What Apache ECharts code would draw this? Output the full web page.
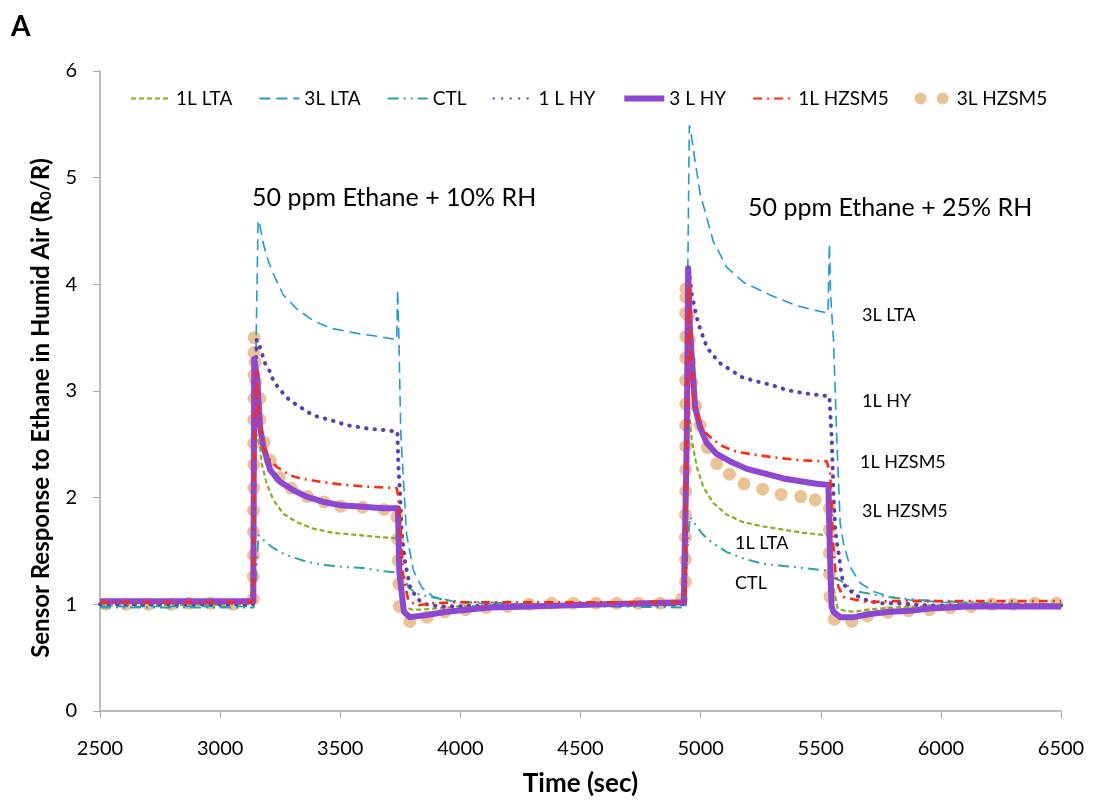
<!DOCTYPE html>
<html>
<head>
<meta charset="utf-8">
<script src="https://cdn.jsdelivr.net/npm/echarts@6/dist/echarts.min.js"></script>
<style>
  html, body { margin: 0; padding: 0; background: #fff; }
  #chart { width: 1093px; height: 800px; }
</style>
</head>
<body>
<div id="chart"></div>
<script>
// [time (sec), R0/R]
var lta1 = [[2500,0.99],[3130,1.0],[3140,1.8],[3150,2.6],[3166,2.48],[3173,2.32],[3194,2.13],[3221,1.98],[3263,1.85],[3319,1.77],[3388,1.71],[3471,1.67],[3569,1.65],[3666,1.63],[3740,1.62],[3752,1.2],[3770,0.97],[3800,0.95],[3832,0.95],[3887,0.96],[3985,0.98],[4200,0.99],[4930,1.0],[4940,2.0],[4950,2.9],[4955,2.73],[4963,2.54],[4984,2.29],[5011,2.10],[5053,1.95],[5109,1.84],[5178,1.77],[5261,1.73],[5344,1.70],[5428,1.67],[5518,1.65],[5536,1.64],[5550,1.2],[5570,0.96],[5600,0.94],[5636,0.93],[5691,0.95],[5800,0.97],[6000,0.99],[6500,1.0]];

var lta3 = [[2500,0.98],[3140,0.98],[3150,3.5],[3158,4.60],[3163,4.58],[3180,4.38],[3200,4.22],[3221,4.10],[3263,3.90],[3319,3.77],[3387,3.66],[3457,3.59],[3569,3.54],[3666,3.51],[3735,3.48],[3739,3.95],[3744,3.50],[3752,2.60],[3776,1.66],[3804,1.32],[3839,1.16],[3887,1.07],[3985,1.02],[4082,1.01],[4500,0.99],[4940,0.99],[4946,4.0],[4953,5.49],[4958,5.45],[4970,5.26],[4998,4.85],[5053,4.40],[5109,4.16],[5178,4.02],[5289,3.90],[5400,3.80],[5470,3.76],[5530,3.73],[5536,4.38],[5541,3.9],[5553,3.48],[5567,2.54],[5581,1.76],[5594,1.58],[5622,1.35],[5664,1.20],[5719,1.12],[5789,1.07],[5872,1.04],[6011,1.02],[6200,1.0],[6500,0.99]];

var ctl = [[2500,0.97],[3140,0.97],[3150,1.3],[3160,1.65],[3166,1.63],[3214,1.54],[3249,1.49],[3291,1.45],[3360,1.40],[3430,1.37],[3513,1.35],[3596,1.34],[3679,1.31],[3735,1.30],[3762,1.29],[3783,1.16],[3818,1.10],[3874,1.07],[3943,1.04],[4026,1.02],[4109,1.02],[4300,1.0],[4600,0.98],[4935,0.97],[4945,1.5],[4955,1.82],[4984,1.73],[5011,1.65],[5053,1.57],[5109,1.49],[5178,1.43],[5261,1.38],[5344,1.36],[5428,1.34],[5511,1.32],[5535,1.32],[5551,1.25],[5594,1.21],[5636,1.13],[5677,1.11],[5747,1.08],[5816,1.06],[5914,1.04],[6011,1.03],[6200,1.01],[6500,1.0]];

var hy1 = [[2500,1.0],[3135,1.0],[3145,3.0],[3152,3.48],[3166,3.41],[3187,3.26],[3208,3.18],[3221,3.10],[3249,3.01],[3291,2.91],[3333,2.85],[3388,2.77],[3457,2.73],[3527,2.68],[3610,2.65],[3694,2.63],[3738,2.62],[3742,2.29],[3749,2.04],[3756,1.66],[3770,1.40],[3779,1.29],[3793,1.14],[3832,1.03],[3860,1.0],[3915,0.98],[4200,0.99],[4935,1.0],[4945,3.5],[4955,4.07],[4963,3.91],[4977,3.76],[4991,3.63],[5005,3.54],[5026,3.41],[5046,3.35],[5081,3.26],[5123,3.20],[5171,3.13],[5234,3.09],[5289,3.06],[5358,3.01],[5428,2.98],[5497,2.96],[5536,2.95],[5546,2.54],[5553,2.04],[5560,1.70],[5569,1.55],[5577,1.45],[5583,1.33],[5594,1.19],[5622,1.13],[5650,1.08],[5698,1.03],[5754,1.01],[5816,1.01],[5941,0.99],[6500,0.99]];

var hy3 = [[2500,1.03],[3138,1.03],[3142,3.3],[3155,3.1],[3166,2.66],[3180,2.48],[3208,2.26],[3249,2.15],[3305,2.07],[3360,2.01],[3430,1.96],[3499,1.93],[3596,1.915],[3679,1.90],[3740,1.90],[3746,1.3],[3765,0.93],[3790,0.88],[3860,0.90],[3943,0.93],[4026,0.95],[4124,0.97],[4290,0.98],[4600,1.0],[4930,1.02],[4942,2.5],[4948,4.15],[4955,3.6],[4977,2.85],[4998,2.66],[5026,2.51],[5067,2.41],[5123,2.34],[5192,2.27],[5261,2.23],[5344,2.18],[5428,2.15],[5483,2.13],[5532,2.12],[5538,1.5],[5545,0.98],[5553,0.93],[5581,0.88],[5636,0.88],[5706,0.91],[5789,0.93],[5872,0.94],[5955,0.96],[6038,0.97],[6108,0.98],[6500,0.98]];

var hzsm1 = [[2500,1.02],[3135,1.02],[3142,2.0],[3150,3.2],[3160,2.8],[3180,2.48],[3208,2.35],[3235,2.29],[3291,2.21],[3333,2.18],[3416,2.15],[3513,2.12],[3637,2.10],[3735,2.09],[3742,2.01],[3756,1.54],[3760,1.29],[3783,1.04],[3818,0.99],[3887,1.01],[3985,1.02],[4500,1.02],[4935,1.02],[4942,2.5],[4950,4.0],[4960,3.3],[4970,2.91],[4984,2.79],[5011,2.63],[5053,2.54],[5094,2.48],[5150,2.43],[5234,2.40],[5331,2.37],[5428,2.35],[5525,2.34],[5539,2.23],[5546,1.91],[5550,1.60],[5556,1.48],[5560,1.32],[5574,1.16],[5594,1.07],[5650,1.04],[5691,1.02],[5789,1.03],[6000,1.03],[6500,1.03]];

var hzsm3 = [[2524,1.0],[2608,1.0],[2701,1.0],[2796,1.0],[2869,1.01],[2960,1.01],[3055,1.0],[3138,1.05],
  [3138,1.26],[3139,1.46],[3139,1.68],[3139,1.88],[3140,2.09],[3140,2.31],[3140,2.51],[3140,2.73],[3141,2.93],[3141,3.15],[3141,3.36],[3142,3.50],
  [3146,3.27],[3148,3.09],[3165,2.93],[3166,2.73],[3183,2.52],[3208,2.35],[3246,2.19],[3295,2.09],[3364,2.01],[3433,1.96],[3502,1.92],[3593,1.91],[3682,1.89],
  [3736,1.82],[3739,1.61],[3741,1.41],[3744,1.19],[3746,0.98],
  [3790,0.84],[3862,0.88],[3936,0.93],[4022,0.95],[4107,0.97],[4197,0.98],[4286,1.0],[4380,1.01],[4470,1.01],[4565,1.01],[4651,1.01],[4741,1.01],[4831,1.01],[4921,1.05],
  [4937,1.21],[4937,1.42],[4937,1.63],[4937,1.84],[4938,2.06],[4938,2.26],[4938,2.48],[4938,2.68],[4938,2.88],[4938,3.10],[4938,3.31],[4938,3.51],[4938,3.73],[4939,3.88],[4939,3.96],
  [4950,3.70],[4953,3.48],[4955,3.28],[4963,3.08],[4980,2.86],[4998,2.68],[5028,2.47],[5067,2.32],[5120,2.22],[5181,2.13],[5258,2.08],[5335,2.03],[5417,2.01],[5477,1.98],
  [5536,1.90],[5536,1.70],[5536,1.48],[5537,1.28],[5538,1.07],
  [5556,0.86],[5629,0.84],[5694,0.89],[5779,0.925],[5865,0.94],[5952,0.95],[6039,0.97],[6126,0.98],[6213,1.0],[6302,1.0],[6391,1.01],[6481,1.01]];

var seriesNames = ['1L LTA', '3L LTA', 'CTL', '1 L HY', '3 L HY', '1L HZSM5', '3L HZSM5'];
var xTicks = { min: 2500, max: 6500, step: 500 };
var yTicks = { min: 0, max: 6, step: 1 };

var font = 'Lato, "Open Sans", sans-serif';

var chart = echarts.init(document.getElementById('chart'));

function lineSeries(name, data, color, width, dash, extra) {
  var s = {
    name: name,
    type: 'line',
    data: data,
    symbol: 'none',
    smooth: false,
    lineStyle: { color: color, width: width, type: dash },
    itemStyle: { color: color }
  };
  if (extra) {
    for (var k in extra) s.lineStyle[k] = extra[k];
  }
  return s;
}

function label(text, left, top, size) {
  return { type: 'text', left: left, top: top, style: { text: text, fontSize: size, fill: '#000', fontFamily: font } };
}

var option = {
  animation: false,
  backgroundColor: '#fff',
  textStyle: { fontFamily: font },
  grid: { left: 100, right: 32, top: 71, bottom: 89, outerBoundsMode: 'none', containLabel: false },
  legend: {
    top: 84,
    left: 125,
    itemWidth: 40,
    itemHeight: 12,
    itemGap: 26,
    itemStyle: { opacity: 0 }, // excel legend shows only the line
    textStyle: { fontSize: 19, color: '#000', fontFamily: font },
    data: [
      { name: seriesNames[0] }, { name: seriesNames[1] }, { name: seriesNames[2] },
      { name: seriesNames[3] }, { name: seriesNames[4], lineStyle: { width: 6 } }, { name: seriesNames[5] },
      // two dots like the excel marker legend
      { name: seriesNames[6], itemStyle: { opacity: 1 }, icon: 'path://M0,6a6,6 0 1,0 12,0a6,6 0 1,0 -12,0M22,6a6,6 0 1,0 12,0a6,6 0 1,0 -12,0' }
    ]
  },
  xAxis: {
    type: 'value',
    min: xTicks.min, max: xTicks.max, interval: xTicks.step,
    name: 'Time (sec)',
    nameLocation: 'middle',
    nameGap: 60,
    nameTextStyle: { fontSize: 26, fontWeight: 'bold', color: '#000', fontFamily: font },
    axisLine: { lineStyle: { color: '#A6A6A6', width: 1.5 } },
    axisTick: { show: true, length: 7, lineStyle: { color: '#A6A6A6' } },
    axisLabel: { fontSize: 20, color: '#000', margin: 28, formatter: function (v) { return String(v); } },
    splitLine: { show: false }
  },
  yAxis: {
    type: 'value',
    min: yTicks.min, max: yTicks.max, interval: yTicks.step,
    name: 'Sensor Response to Ethane in Humid Air (R{sub|0}/R)',
    nameLocation: 'middle',
    nameGap: 46,
    nameTextStyle: {
      fontSize: 24, fontWeight: 'bold', color: '#000', fontFamily: font,
      padding: [0, 34, 0, 0],
      rich: { sub: { fontSize: 15, fontWeight: 'bold', fontFamily: font, verticalAlign: 'bottom', padding: [10, 0, 0, 0] } }
    },
    axisLine: { show: true, lineStyle: { color: '#A6A6A6', width: 1.5 } },
    axisTick: { show: true, length: 7, lineStyle: { color: '#A6A6A6' } },
    axisLabel: { fontSize: 20, color: '#000', margin: 23 },
    splitLine: { show: false }
  },
  graphic: [
    { type: 'text', left: 11, top: 13, style: { text: 'A', fontSize: 28, fontWeight: 'bold', fill: '#000', fontFamily: font } },
    label('50 ppm Ethane + 10% RH', 252, 185, 25),
    label('50 ppm Ethane + 25% RH', 748, 195, 25),
    label('3L LTA', 862, 306, 18),
    label('1L HY', 862, 392, 18),
    label('1L HZSM5', 860, 453, 18),
    label('3L HZSM5', 862, 502, 18),
    label('1L LTA', 735, 534, 18),
    label('CTL', 735, 574, 18)
  ],
  series: [
    lineSeries(seriesNames[0], lta1, '#86B01E', 2.2, [5, 3]),
    lineSeries(seriesNames[1], lta3, '#1E9BD7', 1.6, [11, 6]),
    lineSeries(seriesNames[2], ctl, '#2DA39E', 2, [11, 5, 2, 5, 2, 5]),
    lineSeries(seriesNames[3], hy1, '#5B3EB5', 4, [0.5, 8], { cap: 'round' }),
    lineSeries(seriesNames[4], hy3, '#8E47D3', 6, 'solid', { join: 'round' }),
    lineSeries(seriesNames[5], hzsm1, '#FF2A0A', 2.6, [9, 5, 2, 5]),
    {
      name: seriesNames[6],
      type: 'scatter',
      data: hzsm3,
      symbol: 'circle',
      symbolSize: 13,
      itemStyle: { color: '#EBC393', opacity: 1 }
    }
  ]
};

chart.setOption(option);
</script>
</body>
</html>
